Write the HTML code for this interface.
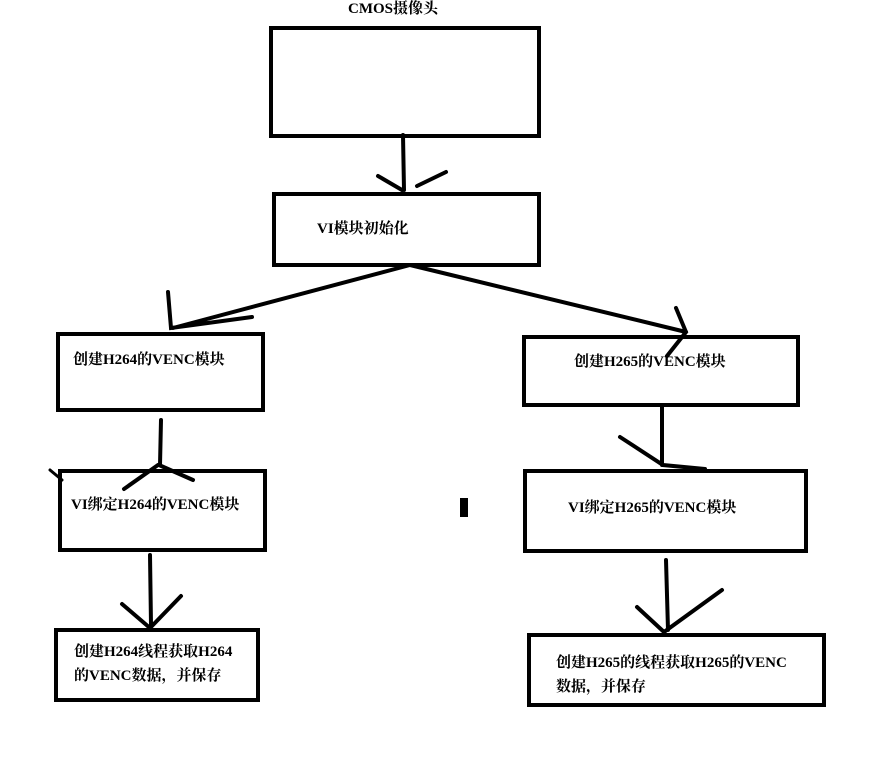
<!DOCTYPE html>
<html><head><meta charset="utf-8"><style>
body{margin:0;background:#fff;width:878px;height:757px;overflow:hidden}
svg{position:absolute;left:0;top:0}
text{font-family:"Liberation Serif","Noto Serif CJK SC",serif;font-weight:bold;font-size:15px;fill:#000}
</style></head><body>
<svg width="878" height="757" viewBox="0 0 878 757">
<g fill="none" stroke="#000" stroke-width="4" stroke-linecap="round">
<rect x="271" y="28" width="268" height="108"/>
<rect x="274" y="194" width="265" height="71"/>
<rect x="58" y="334" width="205" height="76"/>
<rect x="524" y="337" width="274" height="68"/>
<rect x="60" y="471" width="205" height="79"/>
<rect x="525" y="471" width="281" height="80"/>
<rect x="56" y="630" width="202" height="70"/>
<rect x="529" y="635" width="295" height="70"/>
<!-- arrows -->
<path d="M403 135 L404 190 M378 176 L402 190 M417 186 L446 172"/>
<path d="M410 265 L173 328 M168 292 L171 328 L252 317"/>
<path d="M410 265 L686 332 M676 308 L686 332 L667 356"/>
<path d="M161 420 L160 465 M124 489 L158 465 M159 465 L193 480"/>
<path d="M662 405 L662 465 M620 437 L663 465 L705 469" />
<path d="M150 555 L151 625 M122 604 L150 628 L181 596"/>
<path d="M666 560 L668 630 M637 607 L664 632 L722 590"/>
<path d="M50 470 L62 480" stroke-width="3"/>
</g>
<rect x="460" y="498" width="8" height="19" fill="#000"/>
<text x="348" y="13">CMOS摄像头</text>
<text x="317" y="233">VI模块初始化</text>
<text x="73" y="364">创建H264的VENC模块</text>
<text x="574" y="366">创建H265的VENC模块</text>
<text x="71" y="509">VI绑定H264的VENC模块</text>
<text x="568" y="512">VI绑定H265的VENC模块</text>
<text x="74" y="656">创建H264线程获取H264</text>
<text x="74" y="680">的VENC数据，并保存</text>
<text x="556" y="667">创建H265的线程获取H265的VENC</text>
<text x="556" y="691">数据，并保存</text>
</svg>
</body></html>
